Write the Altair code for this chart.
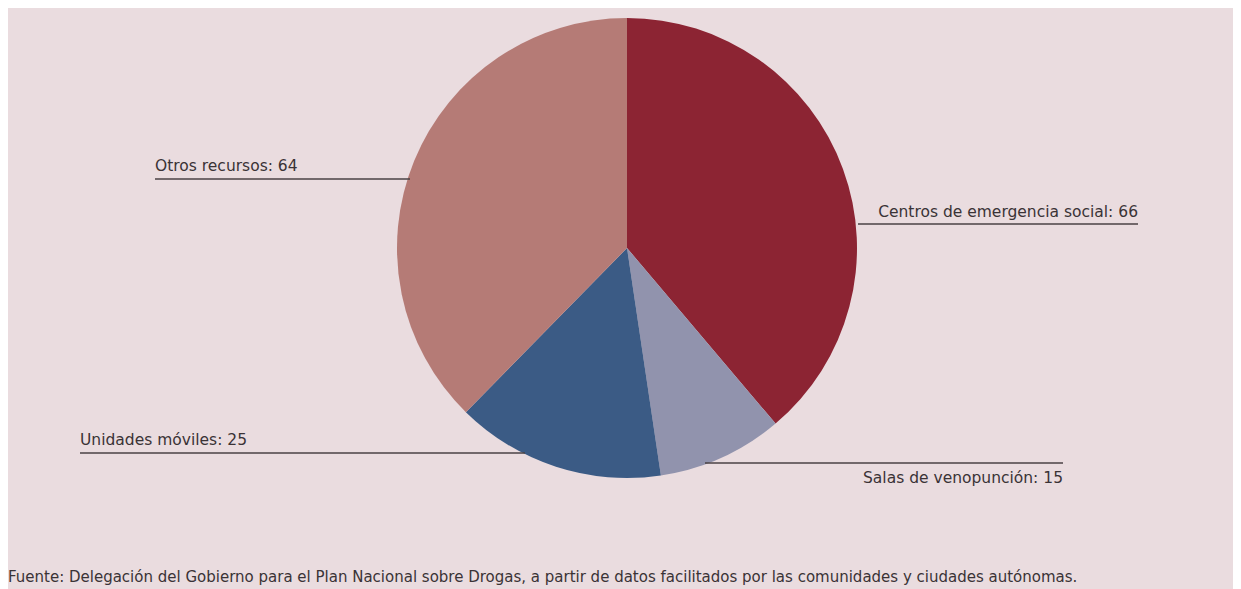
import altair as alt
import pandas as pd

# Data
categories = ["Centros de emergencia social", "Salas de venopunción", "Unidades móviles", "Otros recursos"]
values = [66, 15, 25, 64]
colors = ["#8C2433", "#9193AD", "#3B5B85", "#B57B76"]

# Label layout (annotation positions, chart pixel coords)
label_text = [f"{c}: {v}" for c, v in zip(categories, values)]
line_x1 = [850, 697, 72, 147]
line_x2 = [1130, 1055, 517, 402]
line_y = [216, 455, 445, 171]
text_x = [1130, 1055, 72, 147]
text_y = [209, 475, 437, 163]
text_align = ["right", "right", "left", "left"]

footnote = ("Fuente: Delegación del Gobierno para el Plan Nacional sobre Drogas, a partir de datos "
            "facilitados por las comunidades y ciudades autónomas.")

W, H = 1225, 581
BG = "#EADCDF"
FONT = "DejaVu Sans"

pie_df = pd.DataFrame({"cat": categories, "val": values, "idx": list(range(len(values)))})
lines_df = pd.DataFrame({"x": line_x1, "x2": line_x2, "y": line_y})
text_df = pd.DataFrame({"label": label_text, "x": text_x, "y": text_y, "align": text_align})
foot_df = pd.DataFrame({"label": [footnote], "x": [0], "y": [574]})

xs = alt.Scale(domain=[0, W], range=[0, W])
ys = alt.Scale(domain=[0, H], range=[0, H])

pie = alt.Chart(pie_df).mark_arc(outerRadius=230).encode(
    theta=alt.Theta("val:Q", stack=True),
    order=alt.Order("idx:Q"),
    color=alt.Color("cat:N", scale=alt.Scale(domain=categories, range=colors), legend=None),
    x=alt.value(619),
    y=alt.value(240),
)

rules = alt.Chart(lines_df).mark_rule(color="#4A4245", strokeWidth=1.5).encode(
    x=alt.X("x:Q", scale=xs, axis=None),
    x2="x2:Q",
    y=alt.Y("y:Q", scale=ys, axis=None),
)

texts_left = alt.Chart(text_df[text_df["align"] == "left"]).mark_text(
    align="left", baseline="alphabetic", font=FONT, fontSize=15.5, color="#3A3336"
).encode(
    x=alt.X("x:Q", scale=xs, axis=None),
    y=alt.Y("y:Q", scale=ys, axis=None),
    text="label:N",
)
texts_right = alt.Chart(text_df[text_df["align"] == "right"]).mark_text(
    align="right", baseline="alphabetic", font=FONT, fontSize=15.5, color="#3A3336"
).encode(
    x=alt.X("x:Q", scale=xs, axis=None),
    y=alt.Y("y:Q", scale=ys, axis=None),
    text="label:N",
)

foot = alt.Chart(foot_df).mark_text(
    align="left", baseline="alphabetic", font=FONT, fontSize=15, color="#3A3336"
).encode(
    x=alt.X("x:Q", scale=xs, axis=None),
    y=alt.Y("y:Q", scale=ys, axis=None),
    text="label:N",
)

chart = alt.layer(pie, rules, texts_left, texts_right, foot).properties(
    width=W, height=H, background=BG, padding=0
).configure_view(stroke=None)

chart.save("out.html", embed_options={"renderer": "svg", "actions": False})
